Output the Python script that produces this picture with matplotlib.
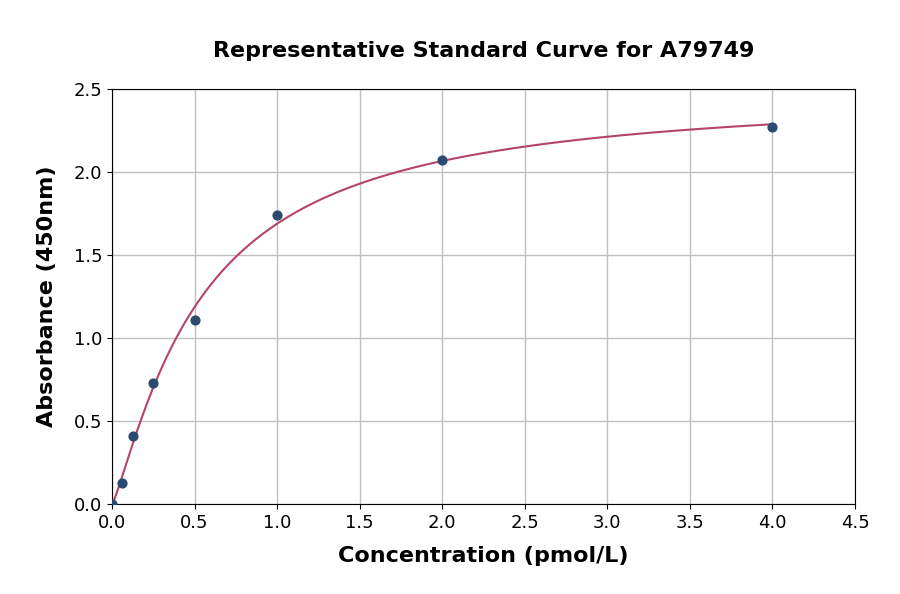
import numpy as np
import matplotlib
matplotlib.use("Agg")
import matplotlib.pyplot as plt

conc = [0.0, 0.0625, 0.125, 0.25, 0.5, 1.0, 2.0, 4.0]
absorb = [0.0, 0.125, 0.41, 0.727, 1.11, 1.74, 2.07, 2.273]

x = np.array(conc)
y = np.array(absorb)

# 4PL fit via grid search (linear in a, d for given b, c)
best = None
for b in np.linspace(0.5, 2.5, 201):
    for c in np.linspace(0.1, 3.0, 291):
        s = x**b / (c**b + x**b)
        A = np.vstack([1 - s, s]).T
        coef, *_ = np.linalg.lstsq(A, y, rcond=None)
        r = np.sum((A @ coef - y) ** 2)
        if best is None or r < best[0]:
            best = (r, b, c, coef)
_, b, c, (a, d) = best
xf = np.linspace(0, 4.0, 400)
sf = xf**b / (c**b + xf**b)
yf = a * (1 - sf) + d * sf

fig = plt.figure(figsize=(9, 5.94), dpi=100)
ax = fig.add_axes([0.1244, 0.1515, 0.8256, 0.6987])
ax.plot(xf, yf, color="#b5446b", lw=1.5, zorder=2)
ax.scatter(x, y, s=40, color="#2b4a6f", zorder=3)
ax.set_xlim(0, 4.5)
ax.set_ylim(0, 2.5)
ax.set_xticks(np.arange(0, 4.51, 0.5))
ax.set_yticks(np.arange(0, 2.51, 0.5))
ax.grid(True, color="#c0c0c0", lw=1)
ax.set_axisbelow(True)
ax.tick_params(labelsize=13)
ax.set_xlabel("Concentration (pmol/L)", fontsize=16, fontweight="bold", labelpad=10)
ax.set_ylabel("Absorbance (450nm)", fontsize=16, fontweight="bold", labelpad=12)
ax.set_title("Representative Standard Curve for A79749", fontsize=16, fontweight="bold", pad=23)
fig.savefig("out.png", dpi=100)
